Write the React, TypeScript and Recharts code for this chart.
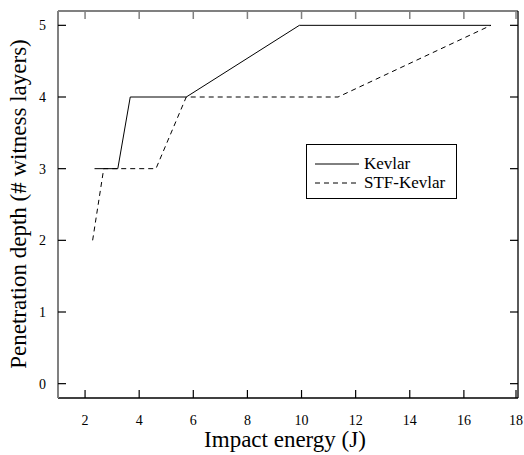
import React from "react";
import { LineChart, Line, XAxis, YAxis, Legend, Label } from "recharts";

const energyTicks = [2, 4, 6, 8, 10, 12, 14, 16, 18];
const depthTicks = [0, 1, 2, 3, 4, 5];

// Kevlar
const kevlarEnergy = [2.35, 3.21, 3.67, 5.74, 9.92, 17.0];
const kevlarDepth = [3, 3, 4, 4, 5, 5];

// STF-Kevlar
const stfEnergy = [2.28, 2.69, 4.62, 5.74, 11.35, 17.0];
const stfDepth = [2, 3, 3, 4, 4, 5];

const kevlar = kevlarEnergy.map((e, i) => ({ energy: e, depth: kevlarDepth[i] }));
const stf = stfEnergy.map((e, i) => ({ energy: e, depth: stfDepth[i] }));

const FONT = "'Liberation Serif', 'Times New Roman', serif";
const GRAY = "#808080";
const TICK = 8;
const XM = 17;
const YM = 12;

// ticks point inward, so the lines are drawn together with the labels
const BottomTick = (props: any) => {
  const { x, y, payload } = props;
  return (
    <g>
      <path d={`M${x},${y - XM}v${-TICK}`} stroke="#000" strokeWidth={1.2} fill="none" />
      <text x={x} y={y} dy="0.71em" textAnchor="middle" style={{ fontFamily: FONT, fontSize: 14 }} fill="#000">
        {payload.value}
      </text>
    </g>
  );
};

const LeftTick = (props: any) => {
  const { x, y, payload } = props;
  return (
    <g>
      <path d={`M${x + YM},${y}h${TICK}`} stroke="#000" strokeWidth={1.2} fill="none" />
      <text x={x} y={y} dy="0.355em" textAnchor="end" style={{ fontFamily: FONT, fontSize: 14 }} fill="#000">
        {payload.value}
      </text>
    </g>
  );
};

const TopTick = (props: any) => {
  const { x, y } = props;
  return <path d={`M${x},${y}v${TICK}`} stroke={GRAY} strokeWidth={1.5} fill="none" />;
};

const RightTick = (props: any) => {
  const { x, y } = props;
  return <path d={`M${x},${y}h${-TICK}`} stroke="#000" strokeWidth={1.2} fill="none" />;
};

const renderLegend = (props: any) => {
  const { payload } = props;
  return (
    <div
      style={{
        position: "relative",
        border: "1px solid #000",
        width: 149,
        height: 53,
        boxSizing: "content-box",
        background: "#fff",
        fontFamily: FONT,
        fontSize: 17,
        color: "#000",
      }}
    >
      {(payload || []).map((p: any, i: number) => (
        <div
          key={p.value}
          style={{ position: "absolute", left: 8, top: 9 + i * 19, height: 19, display: "flex", alignItems: "center" }}
        >
          <svg width={44} height={4} style={{ display: "block" }}>
            <line x1={0} y1={2} x2={44} y2={2} stroke="#000" strokeWidth={1} strokeDasharray={p.payload?.strokeDasharray} />
          </svg>
          <span style={{ marginLeft: 5, lineHeight: "19px", whiteSpace: "nowrap" }}>{p.value}</span>
        </div>
      ))}
    </div>
  );
};

const XTitle = () => (
  <text x={285} y={447} textAnchor="middle" style={{ fontFamily: FONT, fontSize: 23 }} fill="#000">
    Impact energy (J)
  </text>
);

const YTitle = () => (
  <text x={26} y={204} transform="rotate(-90, 26, 204)" textAnchor="middle" style={{ fontFamily: FONT, fontSize: 23 }} fill="#000">
    Penetration depth (# witness layers)
  </text>
);

export default function App() {
  return (
    <div style={{ position: "absolute", left: 0, top: 0, width: 524, height: 455, background: "#fff", fontFamily: FONT }}>
      <LineChart width={524} height={455} margin={{ top: 10, right: 5, bottom: 7, left: 8 }}>
        <XAxis xAxisId="bottom" type="number" dataKey="energy" domain={[1, 18]} ticks={energyTicks} allowDataOverflow
          height={50} tickSize={0} tickMargin={XM} axisLine={{ stroke: "#000", strokeWidth: 1.3 }} tickLine={false} tick={BottomTick}>
          <Label content={XTitle} />
        </XAxis>
        <XAxis xAxisId="top" orientation="top" type="number" dataKey="energy" domain={[1, 18]} ticks={energyTicks} allowDataOverflow
          height={1} tickSize={0} tickMargin={0} axisLine={{ stroke: GRAY, strokeWidth: 2 }} tickLine={false} tick={TopTick} />
        <YAxis yAxisId="left" type="number" domain={[-0.2, 5.2]} ticks={depthTicks} allowDataOverflow
          width={50} tickSize={0} tickMargin={YM} axisLine={{ stroke: GRAY, strokeWidth: 2 }} tickLine={false} tick={LeftTick}>
          <Label content={YTitle} />
        </YAxis>
        <YAxis yAxisId="right" orientation="right" type="number" domain={[-0.2, 5.2]} ticks={depthTicks} allowDataOverflow
          width={1} tickSize={0} tickMargin={0} axisLine={{ stroke: "#000", strokeWidth: 1.3 }} tickLine={false} tick={RightTick} />
        <Line xAxisId="bottom" yAxisId="left" data={kevlar} dataKey="depth" name="Kevlar" type="linear"
          stroke="#000" strokeWidth={1} dot={false} isAnimationActive={false} />
        <Line xAxisId="bottom" yAxisId="left" data={stf} dataKey="depth" name="STF-Kevlar" type="linear"
          stroke="#000" strokeWidth={1} strokeDasharray="5 4" dot={false} isAnimationActive={false} />
        <Legend content={renderLegend} layout="vertical" align="center" verticalAlign="middle"
          wrapperStyle={{ position: "absolute", left: 306, top: 144, width: 151, height: 55, bottom: "auto", right: "auto" }} />
      </LineChart>
    </div>
  );
}
